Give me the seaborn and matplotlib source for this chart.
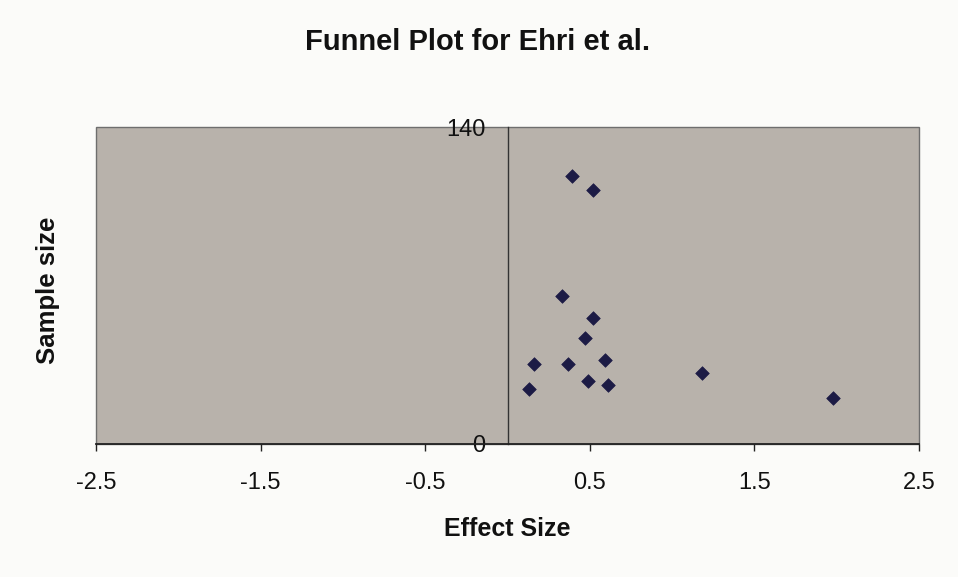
import matplotlib
matplotlib.use("Agg")
import matplotlib.pyplot as plt
import seaborn as sns
import pandas as pd

# Data
effect_size = [0.39, 0.52, 0.33, 0.52, 0.47, 0.16, 0.37, 0.59, 1.18, 0.13, 0.49, 0.61, 1.98]
sample_size = [118.5, 112.3, 65.4, 55.5, 46.7, 35.2, 35.5, 37.2, 31.2, 24.3, 27.7, 25.9, 20.2]
x_ticks = [-2.5, -1.5, -0.5, 0.5, 1.5, 2.5]
y_ticks = [0, 140]

df = pd.DataFrame({"Effect Size": effect_size, "Sample size": sample_size})

sns.set_style("white")
plt.rcParams["font.family"] = ["Liberation Sans", "DejaVu Sans"]

fig = plt.figure(figsize=(9.58, 5.77), dpi=100)
fig.patch.set_facecolor("#fbfbf9")
ax = fig.add_axes([96 / 958, 1 - 444 / 577, (919 - 96) / 958, (444 - 127) / 577])
ax.set_facecolor("#b8b2ab")

sns.scatterplot(data=df, x="Effect Size", y="Sample size", marker="D", s=48,
                color="#1c1b45", edgecolor="#1c1b45", linewidth=0.5, ax=ax, zorder=3)

ax.set_xlim(-2.5, 2.5)
ax.set_ylim(0, 140)
ax.set_xticks(x_ticks)
ax.set_xticklabels([f"{v:g}" for v in x_ticks])
ax.set_yticks(y_ticks)
ax.set_yticklabels([str(v) for v in y_ticks])

# Plot area border
ax.patch.set_edgecolor("#6e6e6e")
ax.patch.set_linewidth(1.0)

for s in ["top", "right"]:
    ax.spines[s].set_visible(False)
ax.spines["left"].set_position(("data", 0))
ax.spines["left"].set_color("#333333")
ax.spines["left"].set_linewidth(1.0)
ax.spines["left"].set_zorder(2)
ax.spines["bottom"].set_color("#222222")
ax.spines["bottom"].set_linewidth(1.3)

ax.tick_params(axis="x", direction="out", length=5, width=1.0, color="#222222",
               labelsize=17, pad=15, bottom=True)
ax.tick_params(axis="y", length=0, labelsize=17, pad=16)
for lbl in ax.get_xticklabels() + ax.get_yticklabels():
    lbl.set_color("#111111")

ax.set_xlabel("Effect Size", fontsize=18, fontweight="bold", color="#111111", labelpad=17)
ax.set_ylabel("")
fig.text(48 / 958, 1 - 290 / 577, "Sample size", rotation=90, fontsize=18.5,
         fontweight="bold", color="#111111", ha="center", va="center")
fig.text(478 / 958, 1 - 42 / 577, "Funnel Plot for Ehri et al.", fontsize=21,
         fontweight="bold", color="#111111", ha="center", va="center")

fig.savefig("out.png", dpi=100, facecolor=fig.get_facecolor())
